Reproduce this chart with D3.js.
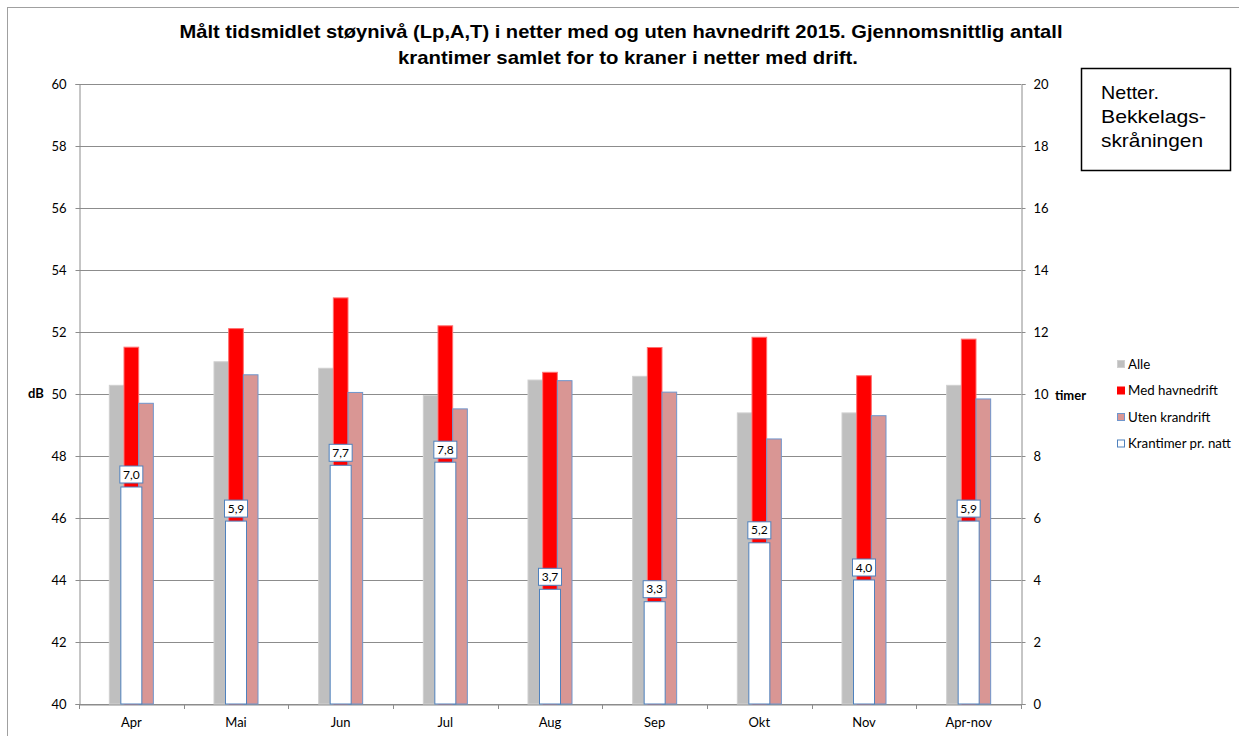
<!DOCTYPE html>
<html>
<head>
<meta charset="utf-8">
<script src="https://cdn.jsdelivr.net/npm/d3@7"></script>
<style>
  body { margin: 0; background: #fff; }
  svg { display: block; }
  .tick text { font-family: Lato, "Open Sans", sans-serif; font-size: 13px; fill: #000; }
</style>
</head>
<body>
<div id="chart"></div>
<script>
const months = ["Apr", "Mai", "Jun", "Jul", "Aug", "Sep", "Okt", "Nov", "Apr-nov"];
const alle = [50.28, 51.04, 50.83, 49.95, 50.45, 50.57, 49.39, 49.39, 50.28];
const medHavnedrift = [51.51, 52.11, 53.1, 52.2, 50.7, 51.5, 51.83, 50.59, 51.77];
const utenKrandrift = [49.7, 50.62, 50.05, 49.52, 50.43, 50.06, 48.55, 49.3, 49.84];
const krantimer = [7.0, 5.9, 7.7, 7.8, 3.7, 3.3, 5.2, 4.0, 5.9];
const dbTicks = [40, 42, 44, 46, 48, 50, 52, 54, 56, 58, 60];
const timerTicks = [0, 2, 4, 6, 8, 10, 12, 14, 16, 18, 20];

const W = 1239, H = 736;
const plotL = 79, plotR = 1021, plotT = 84, plotB = 704;

const svg = d3.select("#chart").append("svg")
    .attr("width", W)
    .attr("height", H);

// outer chart border
svg.append("rect")
    .attr("x", 7.5).attr("y", 7.5)
    .attr("width", W).attr("height", H)
    .attr("fill", "none")
    .attr("stroke", "#a0a0a0");

const x = d3.scaleBand().domain(months).range([plotL, plotR]).padding(0);
const keys = ["alle", "med", "uten"];
const xInner = d3.scaleBand().domain(keys).range([-22, 22]);
const yL = d3.scaleLinear().domain([40, 60]).range([plotB, plotT]);
const yR = d3.scaleLinear().domain([0, 20]).range([plotB, plotT]);

// gridlines
svg.append("g")
    .selectAll("line")
    .data(dbTicks)
    .join("line")
    .attr("x1", plotL).attr("x2", plotR)
    .attr("y1", d => Math.round(yL(d)) + 0.5)
    .attr("y2", d => Math.round(yL(d)) + 0.5)
    .attr("stroke", "#8c8c8c");

// axes
const axisL = svg.append("g")
    .attr("transform", `translate(${plotL + 0.5},0)`)
    .call(d3.axisLeft(yL).tickValues(dbTicks).tickSize(4).tickPadding(9));
const axisR = svg.append("g")
    .attr("transform", `translate(${plotR + 0.5},0)`)
    .call(d3.axisRight(yR).tickValues(timerTicks).tickSize(4).tickPadding(8));
const axisB = svg.append("g")
    .attr("transform", `translate(0,${plotB + 0.5})`)
    .call(d3.axisBottom(x).tickSize(0).tickPadding(13));

[axisL, axisR, axisB].forEach(g => {
    g.select(".domain").attr("stroke", "#8c8c8c");
    g.selectAll(".tick line").attr("stroke", "#8c8c8c");
});

// category separator ticks on the bottom axis
svg.append("g")
    .selectAll("line")
    .data(d3.range(months.length + 1))
    .join("line")
    .attr("x1", i => Math.round(plotL + x.bandwidth() * i) + 0.5)
    .attr("x2", i => Math.round(plotL + x.bandwidth() * i) + 0.5)
    .attr("y1", plotB).attr("y2", plotB + 5)
    .attr("stroke", "#8c8c8c");

// primary bars
const rows = months.map((m, i) => ({
    month: m,
    alle: alle[i],
    med: medHavnedrift[i],
    uten: utenKrandrift[i],
    kran: krantimer[i]
}));

const styles = {
    alle: { fill: "#bfbfbf", stroke: "#d0d0d0" },
    med: { fill: "#ff0000", stroke: "#ff7070" },
    uten: { fill: "#d99694", stroke: "#6f95cc" }
};

keys.forEach(k => {
    svg.append("g")
        .selectAll("rect")
        .data(rows)
        .join("rect")
        .attr("x", d => x(d.month) + x.bandwidth() / 2 + xInner(k))
        .attr("width", xInner.bandwidth())
        .attr("y", d => yL(d[k]))
        .attr("height", d => yL(40) - yL(d[k]))
        .attr("fill", styles[k].fill)
        .attr("stroke", styles[k].stroke)
        .attr("stroke-width", 1);
});

// secondary axis bars (krantimer)
const kw = 21;
svg.append("g")
    .selectAll("rect")
    .data(rows)
    .join("rect")
    .attr("x", d => x(d.month) + x.bandwidth() / 2 - kw / 2)
    .attr("width", kw)
    .attr("y", d => yR(d.kran))
    .attr("height", d => yR(0) - yR(d.kran))
    .attr("fill", "#fff")
    .attr("stroke", "#4f81bd")
    .attr("stroke-width", 1);

// data labels
const labels = svg.append("g")
    .selectAll("g")
    .data(rows)
    .join("g")
    .attr("transform", d => `translate(${x(d.month) + x.bandwidth() / 2},${yR(d.kran) - 4})`);
labels.append("rect")
    .attr("x", -11.5).attr("y", -17)
    .attr("width", 23).attr("height", 17)
    .attr("fill", "#fff")
    .attr("stroke", "#4f81bd");
labels.append("text")
    .attr("y", -4.5)
    .attr("text-anchor", "middle")
    .attr("font-family", "Lato, 'Open Sans', sans-serif")
    .attr("font-size", 12)
    .text(d => d.kran.toFixed(1).replace(".", ","));

// axis titles
svg.append("text")
    .attr("x", 36).attr("y", 398)
    .attr("text-anchor", "middle")
    .attr("font-family", "Lato, 'Open Sans', sans-serif")
    .attr("font-size", 13).attr("font-weight", "bold")
    .text("dB");
svg.append("text")
    .attr("x", 1055).attr("y", 400)
    .attr("font-family", "Lato, 'Open Sans', sans-serif")
    .attr("font-size", 13).attr("font-weight", "bold")
    .text("timer");

// title
const title = svg.append("text")
    .attr("text-anchor", "middle")
    .attr("font-family", "'Liberation Sans', Arial, sans-serif")
    .attr("font-size", 19).attr("font-weight", "bold");
title.append("tspan").attr("x", 621).attr("y", 38)
    .attr("textLength", 883).attr("lengthAdjust", "spacingAndGlyphs")
    .text("Målt tidsmidlet støynivå (Lp,A,T) i netter med og uten havnedrift 2015. Gjennomsnittlig antall");
title.append("tspan").attr("x", 628).attr("y", 64)
    .attr("textLength", 460).attr("lengthAdjust", "spacingAndGlyphs")
    .text("krantimer samlet for to kraner i netter med drift.");

// legend
const legendItems = [
    { label: "Alle", fill: "#bfbfbf", stroke: "#d0d0d0" },
    { label: "Med havnedrift", fill: "#ff0000", stroke: "#ff0000" },
    { label: "Uten krandrift", fill: "#d99694", stroke: "#6f95cc" },
    { label: "Krantimer pr. natt", fill: "#fff", stroke: "#4f81bd" }
];
const legend = svg.append("g")
    .selectAll("g")
    .data(legendItems)
    .join("g")
    .attr("transform", (d, i) => `translate(1117,${364 + i * 26.5})`);
legend.append("rect")
    .attr("x", 0.5).attr("y", -3.5)
    .attr("width", 7).attr("height", 7)
    .attr("fill", d => d.fill)
    .attr("stroke", d => d.stroke);
legend.append("text")
    .attr("x", 11).attr("y", 4.5)
    .attr("font-family", "Lato, 'Open Sans', sans-serif")
    .attr("font-size", 13.3)
    .text(d => d.label);

// annotation box
svg.append("rect")
    .attr("x", 1081.5).attr("y", 68.5)
    .attr("width", 149).attr("height", 102)
    .attr("fill", "#fff")
    .attr("stroke", "#000")
    .attr("stroke-width", 1.5);
const note = svg.append("text")
    .attr("font-family", "'Liberation Sans', Arial, sans-serif")
    .attr("font-size", 19);
[["Netter.", 58], ["Bekkelags-", 105], ["skråningen", 102]].forEach(([t, w], i) => {
    note.append("tspan").attr("x", 1101).attr("y", 99 + i * 24)
        .attr("textLength", w).attr("lengthAdjust", "spacingAndGlyphs")
        .text(t);
});
</script>
</body>
</html>
